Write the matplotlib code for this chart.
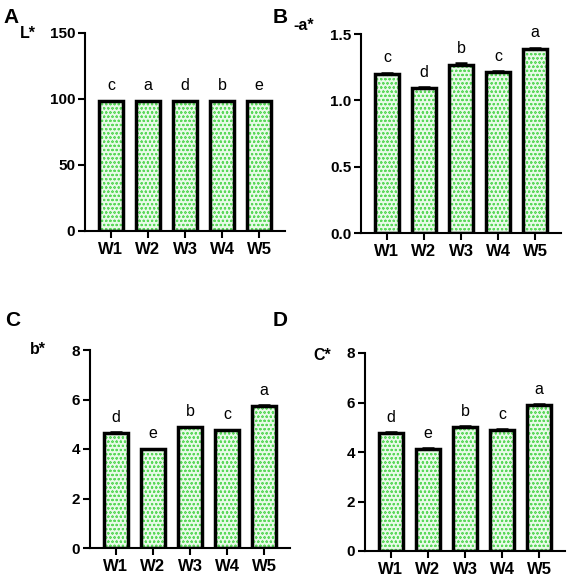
import matplotlib
matplotlib.use("Agg")
import matplotlib.pyplot as plt
import numpy as np

plt.rcParams['font.family'] = ['Liberation Sans', 'DejaVu Sans']
plt.rcParams['hatch.linewidth'] = 0.5

categories = ["W1", "W2", "W3", "W4", "W5"]

L_vals = [98.6, 98.7, 98.5, 98.6, 98.4]
L_err = [0.15, 0.15, 0.15, 0.15, 0.3]
L_letters = ["c", "a", "d", "b", "e"]

a_vals = [1.20, 1.09, 1.27, 1.21, 1.39]
a_err = [0.008, 0.008, 0.008, 0.008, 0.008]
a_letters = ["c", "d", "b", "c", "a"]

b_vals = [4.64, 4.00, 4.88, 4.75, 5.73]
b_err = [0.03, 0.02, 0.02, 0.03, 0.03]
b_letters = ["d", "e", "b", "c", "a"]

C_vals = [4.78, 4.13, 5.03, 4.88, 5.89]
C_err = [0.03, 0.03, 0.02, 0.03, 0.03]
C_letters = ["d", "e", "b", "c", "a"]

W, H = 569, 578
fig = plt.figure(figsize=(W / 100, H / 100), dpi=100)


def axes_px(left, right, bottom, top):
    return fig.add_axes([left / W, 1 - bottom / H, (right - left) / W, (bottom - top) / H])


panels = [
    dict(box=(85, 285, 231, 33), vals=L_vals, err=L_err, letters=L_letters,
         ylim=150, yticks=[0, 50, 100, 150], fmt="{:.0f}", ylabel="L*", ylab_xy=(20, 38),
         tag="A", tag_xy=(3, 23)),
    dict(box=(361, 561, 233, 34), vals=a_vals, err=a_err, letters=a_letters,
         ylim=1.5, yticks=[0, 0.5, 1.0, 1.5], fmt="{:.1f}", ylabel="-a*", ylab_xy=(293, 30),
         tag="B", tag_xy=(273, 23)),
    dict(box=(90, 290, 548, 350), vals=b_vals, err=b_err, letters=b_letters,
         ylim=8, yticks=[0, 2, 4, 6, 8], fmt="{:.0f}", ylabel="b*", ylab_xy=(30, 354),
         tag="C", tag_xy=(5, 326)),
    dict(box=(365, 565, 551, 353), vals=C_vals, err=C_err, letters=C_letters,
         ylim=8, yticks=[0, 2, 4, 6, 8], fmt="{:.0f}", ylabel="C*", ylab_xy=(313, 360),
         tag="D", tag_xy=(273, 326)),
]

x = np.arange(len(categories))
for p in panels:
    ax = axes_px(*p["box"])
    vals = np.array(p["vals"])
    err = np.array(p["err"])
    # hatched fill
    ax.bar(x, vals, width=0.64, color="#e8fae8", edgecolor="#5ad85a",
           hatch="oooo", linewidth=0, zorder=2)
    # black outline
    ax.bar(x, vals, width=0.64, fill=False, edgecolor="black",
           linewidth=2.5, zorder=3)
    ax.errorbar(x, vals, yerr=[np.zeros_like(err), err], fmt="none",
                ecolor="black", elinewidth=1.5, capsize=4, capthick=1.8, zorder=4)
    for xi, v, e, lt in zip(x, vals, err, p["letters"]):
        ax.annotate(lt, (xi, v + e), xytext=(0, 7.5), textcoords="offset points",
                    ha="center", va="baseline", fontsize=11.5)
    ax.set_xlim(-0.7, 4.7)
    ax.set_ylim(0, p["ylim"])
    ax.set_yticks(p["yticks"])
    ax.set_yticklabels([p["fmt"].format(t) for t in p["yticks"]],
                       fontsize=11, fontweight="bold")
    ax.set_xticks(x)
    ax.set_xticklabels(categories, fontsize=12, fontweight="bold")
    for s in ["top", "right"]:
        ax.spines[s].set_visible(False)
    for s in ["left", "bottom"]:
        ax.spines[s].set_linewidth(1.5)
    ax.tick_params(axis="both", width=1.5, length=5, pad=2)
    ax.tick_params(axis="x", pad=3)
    ax.patch.set_alpha(0)
    fig.text(p["ylab_xy"][0] / W, 1 - p["ylab_xy"][1] / H, p["ylabel"],
             fontsize=11.5, fontweight="bold", ha="left", va="baseline")
    fig.text(p["tag_xy"][0] / W, 1 - p["tag_xy"][1] / H, p["tag"],
             fontsize=15, fontweight="bold", ha="left", va="baseline")

fig.savefig("out.png", dpi=100)
